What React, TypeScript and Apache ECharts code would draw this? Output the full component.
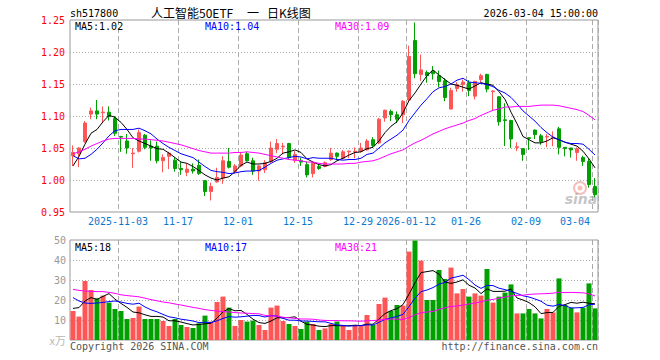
import React, { useEffect, useRef } from 'react';
import * as echarts from 'echarts';

const DATES = [
  '2025-10-22','2025-10-23','2025-10-24','2025-10-27','2025-10-28','2025-10-29','2025-10-30','2025-10-31',
  '2025-11-03','2025-11-04','2025-11-05','2025-11-06','2025-11-07','2025-11-10','2025-11-11','2025-11-12','2025-11-13','2025-11-14',
  '2025-11-17','2025-11-18','2025-11-19','2025-11-20','2025-11-21','2025-11-24','2025-11-25','2025-11-26','2025-11-27','2025-11-28',
  '2025-12-01','2025-12-02','2025-12-03','2025-12-04','2025-12-05','2025-12-08','2025-12-09','2025-12-10','2025-12-11','2025-12-12',
  '2025-12-15','2025-12-16','2025-12-17','2025-12-18','2025-12-19','2025-12-22','2025-12-23','2025-12-24','2025-12-25','2025-12-26',
  '2025-12-29','2025-12-30','2025-12-31','2026-01-05','2026-01-06','2026-01-07','2026-01-08','2026-01-09',
  '2026-01-12','2026-01-13','2026-01-14','2026-01-15','2026-01-16','2026-01-19','2026-01-20','2026-01-21','2026-01-22','2026-01-23',
  '2026-01-26','2026-01-27','2026-01-28','2026-01-29','2026-01-30','2026-02-02','2026-02-03','2026-02-04','2026-02-05','2026-02-06',
  '2026-02-09','2026-02-10','2026-02-11','2026-02-12','2026-02-13','2026-02-24','2026-02-25','2026-02-26','2026-02-27',
  '2026-03-02','2026-03-03','2026-03-04'
];

const TICK_DATES = ['2025-11-03','2025-11-17','2025-12-01','2025-12-15','2025-12-29','2026-01-12','2026-01-26','2026-02-09','2026-03-04'];
const TICK_LABELS = ['2025-11-03','11-17','12-01','12-15','12-29','2026-01-12','01-26','02-09','03-04'];

const OPEN = [
  1.038,1.041,1.060,1.103,1.108,1.105,1.106,1.096,1.068,1.061,
  1.041,1.045,1.070,1.053,1.053,1.030,1.037,1.031,1.018,1.012,
  1.017,1.023,0.999,0.982,0.997,1.003,1.029,1.013,1.022,1.041,
  1.030,1.014,1.016,1.029,1.048,1.052,1.057,1.031,1.030,1.024,
  1.010,1.021,1.021,1.032,1.042,1.034,1.044,1.044,1.045,1.047,
  1.063,1.058,1.097,1.107,1.102,1.102,1.125,1.218,1.165,1.168,
  1.170,1.163,1.155,1.111,1.143,1.149,1.152,1.131,1.157,1.165,
  1.138,1.130,1.094,1.093,1.051,1.049,1.066,1.078,1.069,1.067,
  1.066,1.080,1.051,1.050,1.043,1.035,1.029,0.990
];
const CLOSE = [
  1.043,1.050,1.089,1.108,1.103,1.106,1.099,1.073,1.067,1.050,
  1.042,1.074,1.051,1.050,1.030,1.035,1.042,1.018,1.016,1.017,
  1.014,1.010,0.982,0.990,1.004,1.030,1.020,1.022,1.039,1.030,
  1.014,1.022,1.027,1.050,1.057,1.053,1.035,1.040,1.028,1.008,
  1.027,1.018,1.027,1.042,1.037,1.044,1.045,1.045,1.050,1.061,
  1.054,1.095,1.109,1.102,1.095,1.123,1.193,1.166,1.172,1.163,
  1.166,1.154,1.129,1.140,1.149,1.153,1.140,1.154,1.163,1.142,
  1.139,1.091,1.093,1.064,1.052,1.040,1.065,1.071,1.060,1.068,
  1.067,1.051,1.049,1.047,1.049,1.029,0.993,0.977
];
const LOW = [
  1.022,1.020,1.058,1.095,1.095,1.089,1.093,1.069,1.044,1.041,
  1.019,1.043,1.048,1.030,1.026,1.012,1.017,1.013,1.008,1.006,
  1.010,1.008,0.975,0.968,0.996,0.994,1.018,1.010,1.020,1.029,
  1.008,0.999,1.011,1.027,1.042,1.040,1.033,1.027,1.022,1.004,
  1.004,1.016,1.020,1.030,1.031,1.032,1.034,1.034,1.043,1.046,
  1.051,1.056,1.091,1.092,1.089,1.089,1.123,1.159,1.155,1.152,
  1.157,1.145,1.123,1.110,1.138,1.138,1.131,1.126,1.152,1.137,
  1.109,1.085,1.053,1.050,1.045,1.030,1.047,1.064,1.055,1.051,
  1.053,1.040,1.037,1.035,1.030,1.022,0.988,0.973
];
const HIGH = [
  1.054,1.051,1.092,1.113,1.125,1.115,1.115,1.100,1.069,1.072,
  1.050,1.079,1.072,1.062,1.060,1.040,1.044,1.035,1.028,1.025,
  1.026,1.032,1.000,0.996,1.019,1.037,1.050,1.025,1.044,1.044,
  1.035,1.023,1.031,1.060,1.064,1.058,1.058,1.045,1.035,1.029,
  1.029,1.024,1.029,1.050,1.043,1.047,1.046,1.051,1.058,1.064,
  1.067,1.097,1.110,1.110,1.107,1.125,1.210,1.246,1.196,1.171,
  1.178,1.171,1.159,1.144,1.153,1.157,1.156,1.155,1.166,1.166,
  1.140,1.131,1.120,1.094,1.059,1.050,1.067,1.079,1.072,1.072,
  1.076,1.083,1.051,1.050,1.051,1.038,1.034,1.003
];

const MA5 = [
  1.022,1.037,1.056,1.073,1.079,1.091,1.101,1.098,1.090,1.079,
  1.066,1.061,1.057,1.053,1.049,1.048,1.042,1.035,1.028,1.026,
  1.021,1.015,1.008,1.003,1.000,1.003,1.005,1.013,1.023,1.028,
  1.025,1.025,1.026,1.029,1.034,1.042,1.044,1.047,1.043,1.033,
  1.028,1.024,1.022,1.024,1.030,1.034,1.039,1.043,1.044,1.049,
  1.051,1.061,1.074,1.084,1.091,1.105,1.124,1.136,1.150,1.163,
  1.172,1.164,1.157,1.150,1.148,1.145,1.142,1.147,1.152,1.150,
  1.148,1.138,1.126,1.106,1.088,1.068,1.063,1.058,1.058,1.061,
  1.066,1.063,1.059,1.056,1.053,1.045,1.033,1.019
];
const MA10 = [
  1.038,1.033,1.034,1.040,1.048,1.058,1.069,1.077,1.079,1.079,
  1.079,1.081,1.077,1.072,1.064,1.057,1.051,1.046,1.041,1.038,
  1.035,1.028,1.021,1.015,1.013,1.012,1.010,1.011,1.013,1.014,
  1.014,1.015,1.020,1.026,1.031,1.033,1.035,1.037,1.036,1.033,
  1.035,1.034,1.034,1.034,1.032,1.031,1.032,1.032,1.034,1.040,
  1.042,1.050,1.058,1.064,1.070,1.078,1.093,1.105,1.117,1.127,
  1.138,1.144,1.146,1.150,1.156,1.159,1.153,1.152,1.151,1.149,
  1.146,1.140,1.136,1.129,1.119,1.108,1.100,1.092,1.082,1.074,
  1.067,1.063,1.059,1.057,1.057,1.056,1.048,1.039
];
const MA30 = [
  1.041,1.044,1.048,1.053,1.057,1.061,1.064,1.065,1.065,1.065,
  1.065,1.064,1.064,1.063,1.062,1.061,1.059,1.057,1.055,1.052,
  1.049,1.046,1.044,1.042,1.042,1.042,1.042,1.043,1.043,1.044,
  1.043,1.042,1.040,1.038,1.036,1.034,1.032,1.031,1.030,1.028,
  1.028,1.026,1.025,1.025,1.025,1.025,1.026,1.026,1.028,1.029,
  1.030,1.033,1.037,1.041,1.044,1.047,1.053,1.058,1.062,1.067,
  1.072,1.076,1.080,1.083,1.086,1.089,1.093,1.096,1.101,1.105,
  1.109,1.111,1.114,1.114,1.115,1.115,1.115,1.116,1.117,1.117,
  1.117,1.116,1.114,1.112,1.110,1.107,1.101,1.094
];

const VOLUME = [
  14.5,11.7,29.5,25.0,20.8,22.2,18.7,15.5,14.5,10.5,
  11.0,16.7,10.5,10.5,10.5,9.5,7.0,10.5,7.5,6.5,
  6.0,8.3,12.2,9.2,19.0,21.7,16.2,7.0,10.0,9.2,
  9.7,7.5,5.0,16.2,17.2,9.5,8.0,7.0,5.5,9.2,
  8.0,5.0,5.8,8.0,9.2,7.5,5.0,7.5,7.0,12.5,
  7.5,18.0,21.2,14.5,17.5,17.2,44.2,49.7,39.7,20.0,
  20.0,35.0,30.5,36.2,23.3,25.5,21.7,23.3,22.2,35.5,
  18.7,21.7,23.7,27.8,13.3,13.3,15.5,13.3,10.8,15.5,
  13.8,30.8,17.5,16.2,13.8,16.2,28.3,15.8
];
const VMA5 = [
  15.8,16.2,19.5,21.2,20.3,21.8,23.2,20.4,18.3,16.3,
  14.0,13.6,12.6,11.8,11.8,11.5,9.6,9.6,9.0,8.2,
  7.5,7.8,8.1,8.4,10.9,14.1,15.7,14.6,14.8,12.8,
  10.4,8.7,8.3,9.5,11.1,11.1,11.2,11.6,9.4,7.8,
  7.5,6.9,6.7,7.2,7.2,7.1,7.1,7.4,7.2,7.9,
  7.9,10.5,13.2,14.7,15.7,17.7,22.9,28.6,33.7,34.2,
  34.7,32.9,29.0,28.3,29.0,30.1,27.4,26.0,23.2,25.6,
  24.3,24.3,24.4,25.5,21.0,20.0,18.7,16.6,13.2,13.7,
  13.8,16.8,17.7,18.8,18.4,18.9,18.4,18.1
];
const VMA10 = [
  21.2,19.5,18.5,18.3,18.5,18.8,19.2,19.5,19.0,18.3,
  17.9,18.4,16.5,15.1,14.1,12.8,11.6,11.1,10.4,10.0,
  9.5,8.7,8.9,8.7,9.6,10.8,11.7,11.4,11.6,11.9,
  12.3,12.2,11.5,12.2,12.0,10.8,9.9,9.9,9.5,9.5,
  9.3,9.1,9.1,8.3,7.5,7.3,7.0,7.1,7.2,7.6,
  7.5,8.8,10.3,11.0,11.8,12.8,16.7,20.9,24.2,25.0,
  26.2,27.9,28.8,31.0,31.6,32.4,30.2,27.5,25.8,27.3,
  27.2,25.9,25.2,24.3,23.3,22.1,21.5,20.5,19.4,17.4,
  16.9,17.8,17.2,16.0,16.1,16.3,17.6,17.9
];
const VMA30 = [
  25.3,24.8,24.5,24.3,24.2,24.2,23.8,23.3,22.6,22.2,
  21.9,21.6,20.9,20.2,19.6,19.0,18.6,18.0,17.5,16.9,
  16.3,15.8,15.2,14.8,14.5,14.2,14.0,13.7,13.5,13.4,
  13.2,13.1,12.3,12.0,11.9,11.4,11.1,10.8,10.5,10.5,
  10.4,10.0,9.8,9.7,9.7,9.6,9.6,9.5,9.4,9.6,
  9.7,10.0,10.3,10.5,10.4,10.3,11.2,12.6,13.6,14.0,
  14.3,15.3,16.1,16.8,17.0,17.5,18.0,18.5,19.1,19.9,
  20.3,20.9,21.5,22.1,22.3,22.4,22.8,23.0,23.1,23.2,
  23.4,23.9,23.7,23.8,23.7,23.6,23.1,22.0
];

const PRICE_LEGEND = ['MA5:1.02', 'MA10:1.04', 'MA30:1.09'];
const VOLUME_LEGEND = ['MA5:18', 'MA10:17', 'MA30:21'];

const UP = '#ff5555';
const DOWN = '#00a000';
const MA_COLORS = ['#000000', '#0000ff', '#ff00ff'];
const MONO = '"DejaVu Sans Mono", monospace';
const CJK = '"Noto Sans CJK SC", sans-serif';

export default function App() {
  const ref = useRef<HTMLDivElement>(null);

  useEffect(() => {
    if (!ref.current) return;
    const chart = echarts.init(ref.current, undefined, { renderer: 'svg' });
    const tickIdx = TICK_DATES.map((d) => DATES.indexOf(d));
    const lastIdx = DATES.length - 1;
    const isTick = (i: number) => tickIdx.includes(i);

    const splitX = {
      show: true,
      interval: (i: number) => isTick(i),
      lineStyle: { color: '#aaaaaa', type: [5, 3], width: 1 },
    };
    const splitY = {
      show: true,
      showMinLine: false,
      showMaxLine: false,
      lineStyle: { color: '#aaaaaa', type: [1, 2], width: 1 },
    };

    const lineSeries = (name: string, data: number[], color: string, xi: number) => ({
      name,
      type: 'line',
      xAxisIndex: xi,
      yAxisIndex: xi,
      data,
      showSymbol: false,
      symbol: 'none',
      smooth: false,
      lineStyle: { color, width: 1 },
      z: 3,
    });

    const legendText = (text: string, x: number, y: number, color: string) => ({
      type: 'text',
      x,
      y,
      z: 100,
      style: { text, fill: color, font: `10px ${MONO}`, textAlign: 'left', textVerticalAlign: 'middle' },
    });

    const option: any = {
      animation: false,
      backgroundColor: '#ffffff',
      textStyle: { fontFamily: MONO },
      grid: [
        { left: 70, top: 20, width: 528, height: 192, show: true, borderColor: '#999999', borderWidth: 1, backgroundColor: 'transparent' },
        { left: 70, top: 240, width: 528, height: 100, show: true, borderColor: '#999999', borderWidth: 1, backgroundColor: 'transparent' },
      ],
      xAxis: [
        {
          type: 'category',
          gridIndex: 0,
          data: DATES,
          boundaryGap: true,
          axisLine: { show: false },
          axisTick: { show: false },
          axisLabel: {
            show: true,
            interval: (i: number) => isTick(i),
            margin: 4,
            fontSize: 10,
            fontFamily: MONO,
            color: '#0a78d0',
            formatter: (v: string, i: number) => {
              const k = TICK_DATES.indexOf(v);
              const label = k >= 0 ? TICK_LABELS[k] : '';
              return i === lastIdx ? `{e|${label}}` : `{n|${label}}`;
            },
            rich: {
              n: { fontSize: 10, fontFamily: MONO, color: '#0a78d0', padding: [0, 6, 0, 0] },
              e: { fontSize: 10, fontFamily: MONO, color: '#0a78d0', padding: [0, 40, 0, 0] },
            },
          },
          splitLine: splitX,
        },
        {
          type: 'category',
          gridIndex: 1,
          data: DATES,
          boundaryGap: true,
          axisLine: { show: false },
          axisTick: { show: false },
          axisLabel: { show: false },
          splitLine: splitX,
        },
      ],
      yAxis: [
        {
          type: 'value',
          gridIndex: 0,
          min: 0.95,
          max: 1.25,
          interval: 0.05,
          axisLine: { show: false },
          axisTick: { show: false },
          axisLabel: {
            margin: 5,
            fontSize: 10,
            fontFamily: MONO,
            color: '#ff0000',
            formatter: (v: number) => v.toFixed(2),
          },
          splitLine: splitY,
        },
        {
          type: 'value',
          gridIndex: 1,
          min: 0,
          max: 50,
          interval: 10,
          axisLine: { show: false },
          axisTick: { show: false },
          axisLabel: {
            margin: 4,
            fontSize: 10,
            fontFamily: MONO,
            color: '#999999',
            formatter: (v: number) => (v === 0 ? '{u|x万}' : String(v)),
            rich: {
              u: { fontSize: 11, fontFamily: CJK, color: '#b8b8b8' },
            },
          },
          splitLine: splitY,
        },
      ],
      series: [
        {
          name: 'K',
          type: 'candlestick',
          xAxisIndex: 0,
          yAxisIndex: 0,
          barWidth: 4,
          data: OPEN.map((o, i) => [o, CLOSE[i], LOW[i], HIGH[i]]),
          itemStyle: { color: UP, color0: DOWN, borderColor: UP, borderColor0: DOWN, borderWidth: 1 },
          z: 2,
        },
        lineSeries('MA5', MA5, MA_COLORS[0], 0),
        lineSeries('MA10', MA10, MA_COLORS[1], 0),
        lineSeries('MA30', MA30, MA_COLORS[2], 0),
        {
          name: 'VOL',
          type: 'bar',
          xAxisIndex: 1,
          yAxisIndex: 1,
          barWidth: 5,
          data: VOLUME.map((v, i) => ({
            value: v,
            itemStyle: { color: CLOSE[i] >= OPEN[i] ? UP : DOWN },
          })),
          z: 2,
        },
        lineSeries('VMA5', VMA5, MA_COLORS[0], 1),
        lineSeries('VMA10', VMA10, MA_COLORS[1], 1),
        lineSeries('VMA30', VMA30, MA_COLORS[2], 1),
      ],
      graphic: [
        { type: 'text', x: 70, y: 13, z: 100, style: { text: 'sh517800', fill: '#000', font: `10px ${MONO}`, textAlign: 'left', textVerticalAlign: 'middle' } },
        { type: 'text', x: 151, y: 12, z: 100, style: { text: '人工智能50ETF', fill: '#000', font: `12px ${CJK}`, textAlign: 'left', textVerticalAlign: 'middle' } },
        { type: 'text', x: 247, y: 12, z: 100, style: { text: '一', fill: '#000', font: `12px ${CJK}`, textAlign: 'left', textVerticalAlign: 'middle' } },
        { type: 'text', x: 267, y: 12, z: 100, style: { text: '日K线图', fill: '#000', font: `12px ${CJK}`, textAlign: 'left', textVerticalAlign: 'middle' } },
        { type: 'text', x: 598, y: 13, z: 100, style: { text: '2026-03-04 15:00:00', fill: '#000', font: `10px ${MONO}`, textAlign: 'right', textVerticalAlign: 'middle' } },
        legendText(PRICE_LEGEND[0], 75, 26, MA_COLORS[0]),
        legendText(PRICE_LEGEND[1], 205, 26, MA_COLORS[1]),
        legendText(PRICE_LEGEND[2], 335, 26, MA_COLORS[2]),
        legendText(VOLUME_LEGEND[0], 75, 247, MA_COLORS[0]),
        legendText(VOLUME_LEGEND[1], 205, 247, MA_COLORS[1]),
        legendText(VOLUME_LEGEND[2], 335, 247, MA_COLORS[2]),
        { type: 'text', x: 70, y: 346, z: 100, style: { text: 'Copyright 2026 SINA.COM', fill: '#555', font: `10px ${MONO}`, textAlign: 'left', textVerticalAlign: 'middle' } },
        { type: 'text', x: 598, y: 346, z: 100, style: { text: 'http://finance.sina.com.cn', fill: '#555', font: `10px ${MONO}`, textAlign: 'right', textVerticalAlign: 'middle' } },
        { type: 'circle', z: 1, shape: { cx: 580, cy: 188, r: 6 }, style: { fill: 'none', stroke: 'rgba(235,110,110,0.45)', lineWidth: 2 } },
        { type: 'circle', z: 1, shape: { cx: 580, cy: 188, r: 2.5 }, style: { fill: 'rgba(235,110,110,0.45)' } },
        { type: 'text', x: 581, y: 199, z: 1, style: { text: 'sina', fill: 'rgba(160,160,160,0.6)', font: `italic bold 14px "DejaVu Sans", sans-serif`, textAlign: 'center', textVerticalAlign: 'middle' } },
      ],
    };

    chart.setOption(option);
    return () => chart.dispose();
  }, []);

  return <div ref={ref} style={{ position: 'fixed', left: 0, top: 0, width: 660, height: 360 }} />;
}
